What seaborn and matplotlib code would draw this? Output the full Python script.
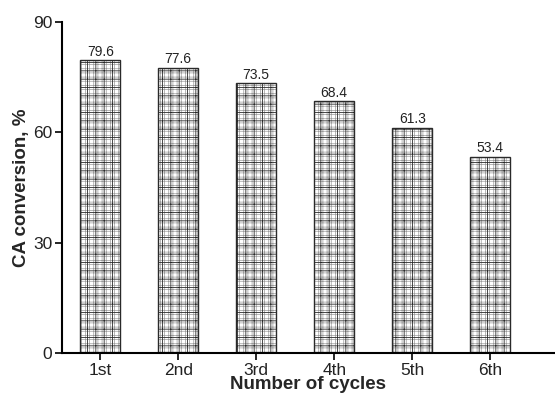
import matplotlib
matplotlib.use("Agg")
import matplotlib.pyplot as plt
import seaborn as sns
import pandas as pd

cycles = ["1st", "2nd", "3rd", "4th", "5th", "6th"]
conversion = [79.6, 77.6, 73.5, 68.4, 61.3, 53.4]
yticks = [0, 30, 60, 90]

sns.set_theme(style="ticks")
plt.rcParams["font.family"] = ["Liberation Sans", "DejaVu Sans"]

df = pd.DataFrame({"cycle": cycles, "conversion": conversion})

fig = plt.figure(figsize=(5.55, 3.99), dpi=100)
ax = fig.add_axes([0.1117, 0.1153, 0.8883, 0.8296])

# fine grey grid fill
plt.rcParams["hatch.linewidth"] = 0.5
sns.barplot(data=df, x="cycle", y="conversion", ax=ax, width=0.51,
            color="white", edgecolor="#9a9a9a", linewidth=0.0)
n_fine = len(ax.patches)
for patch in ax.patches:
    patch.set_hatch("++++")
    patch.set_facecolor("white")
    patch.set_edgecolor("#9a9a9a")
    patch.set_linewidth(0.0)

# coarser dark grid and black outline on top
plt.rcParams["hatch.linewidth"] = 0.6
sns.barplot(data=df, x="cycle", y="conversion", ax=ax, width=0.51,
            color="white", edgecolor="black", linewidth=1.0)
for patch in ax.patches[n_fine:]:
    patch.set_hatch("++")
    patch.set_facecolor("none")
    patch.set_edgecolor("#2a2a2a")
    patch.set_linewidth(1.0)

for i, v in enumerate(conversion):
    ax.text(i, v + 0.3, f"{v:.1f}", ha="center", va="bottom", fontsize=10, color="#222222")

ax.set_xlim(-0.49, 5.83)
ax.set_ylim(0, 90)
ax.set_yticks(yticks)
ax.tick_params(axis="both", labelsize=12.5, length=5, width=1.2, color="black", direction="out", pad=2)
for lbl in ax.get_xticklabels() + ax.get_yticklabels():
    lbl.set_color("#222222")
ax.set_xlabel("Number of cycles", fontsize=13.5, fontweight="bold", labelpad=-1)
ax.set_ylabel("CA conversion, %", fontsize=13.5, fontweight="bold", labelpad=2)

for s in ["top", "right"]:
    ax.spines[s].set_visible(False)
for s in ["left", "bottom"]:
    ax.spines[s].set_linewidth(1.5)
    ax.spines[s].set_color("black")

fig.savefig("out.png", dpi=100)
